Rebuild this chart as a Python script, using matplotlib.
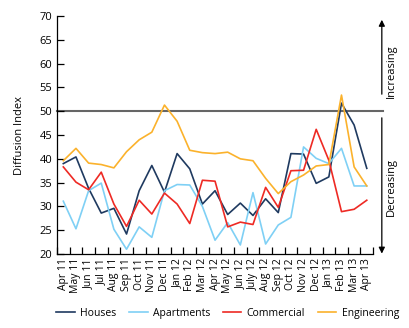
import numpy as np
import matplotlib.pyplot as plt
from matplotlib.lines import Line2D

plt.rcParams['font.family'] = ['Open Sans', 'DejaVu Sans']

months = ['Apr 11', 'May 11', 'Jun 11', 'Jul 11', 'Aug 11', 'Sep 11', 'Oct 11', 'Nov 11',
          'Dec 11', 'Jan 12', 'Feb 12', 'Mar 12', 'Apr 12', 'May 12', 'Jun 12', 'July 12',
          'Aug 12', 'Sep 12', 'Oct 12', 'Nov 12', 'Dec 12', 'Jan 13', 'Feb 13', 'Mar 13', 'Apr 13']

houses = [39.0, 40.4, 33.8, 28.6, 29.6, 24.2, 33.3, 38.6, 33.0, 41.1, 37.9, 30.5, 33.3,
          28.3, 30.7, 28.1, 31.6, 28.7, 41.1, 41.0, 34.85, 36.2, 51.7, 47.1, 38.0]
apartments = [31.1, 25.3, 33.3, 34.9, 25.2, 21.0, 25.7, 23.5, 33.3, 34.6, 34.5, 30.0, 22.9,
              26.6, 21.9, 32.9, 22.1, 26.1, 27.7, 42.5, 40.1, 39.0, 42.2, 34.3, 34.3]
commercial = [38.3, 35.1, 33.5, 37.2, 30.5, 25.8, 31.3, 28.4, 32.8, 30.5, 26.4, 35.5, 35.3,
              25.7, 26.7, 26.2, 34.0, 29.8, 37.5, 37.6, 46.2, 39.7, 28.9, 29.4, 31.3]
engineering = [39.6, 42.2, 39.1, 38.8, 38.1, 41.5, 44.0, 45.6, 51.3, 47.9, 41.8, 41.3, 41.1,
               41.4, 40.0, 39.6, 35.9, 32.7, 35.2, 36.6, 38.5, 38.8, 53.4, 38.3, 34.3]

series = [('Houses', houses, '#1f3a60'),
          ('Apartments', apartments, '#7fd0f5'),
          ('Commercial', commercial, '#ee2a24'),
          ('Engineering', engineering, '#fbb22c')]

fig = plt.figure(figsize=(4.1, 3.28), dpi=100)
ax = fig.add_axes([0.139, 0.2256, 0.771, 0.7254])

x = np.arange(len(months))
ax.plot([-0.5, 25.26], [50, 50], color='#666666', lw=1.5, clip_on=False, zorder=1)
for name, vals, col in series:
    ax.plot(x, vals, color=col, lw=1.2, label=name, zorder=3)

ax.set_xlim(-0.5, len(months) - 0.5)
ax.set_ylim(20, 70)
ax.set_yticks(np.arange(20, 71, 5))
ax.set_xticks(x)
ax.set_xticklabels(months, rotation=90, fontsize=7.5)
ax.set_xticks(np.arange(-0.5, len(months), 1), minor=True)
ax.tick_params(axis='x', which='major', length=0, pad=3)
ax.tick_params(axis='x', which='minor', direction='in', length=5, width=0.9)
ax.tick_params(axis='y', direction='in', length=5, width=0.9, labelsize=8)
for s in ['top', 'right']:
    ax.spines[s].set_visible(False)
for s in ['left', 'bottom']:
    ax.spines[s].set_linewidth(0.9)

ax.set_ylabel('Diffusion Index', fontsize=8, labelpad=10)

# increasing / decreasing arrows to the right of the plot
ax.annotate('', xy=(25.19, 69.8), xytext=(25.19, 53.0), annotation_clip=False,
            arrowprops=dict(arrowstyle='-|>', color='black', lw=0.9, mutation_scale=9))
ax.annotate('', xy=(25.19, 19.5), xytext=(25.19, 49.2), annotation_clip=False,
            arrowprops=dict(arrowstyle='-|>', color='black', lw=0.9, mutation_scale=9))
ax.text(25.98, 58.4, 'Increasing', rotation=90, ha='center', va='center', fontsize=8,
        clip_on=False)
ax.text(25.98, 34.1, 'Decreasing', rotation=90, ha='center', va='center', fontsize=8,
        clip_on=False)

handles = [Line2D([0], [0], color=col, lw=1.2) for _, _, col in series]
fig.legend(handles, [s[0] for s in series], loc='center', bbox_to_anchor=(0.555, 0.045),
           ncol=4, frameon=False, fontsize=7.5, handlelength=1.8, handletextpad=0.5,
           columnspacing=1.2)

fig.savefig('out.png', dpi=100)
